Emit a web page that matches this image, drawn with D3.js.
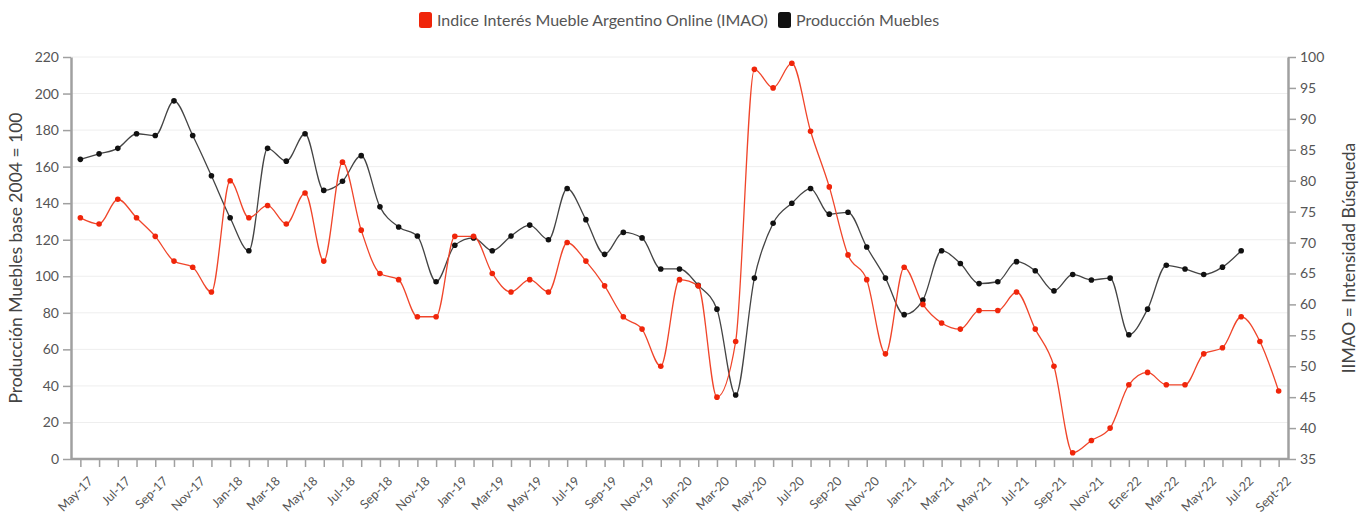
<!DOCTYPE html>
<html>
<head>
<meta charset="utf-8">
<script src="https://cdn.jsdelivr.net/npm/d3@7"></script>
<style>
  body { margin: 0; background: #fff; font-family: Lato, "Open Sans", sans-serif; }
  .axis path, .axis line { stroke: #a0a0a0; }
  .axis text { fill: #555; font-family: Lato, sans-serif; }
</style>
</head>
<body>
<div id="chart-area"></div>
<script>
// months May-17 .. Sept-22
var months = [
  "May-17","Jun-17","Jul-17","Ago-17","Sep-17","Oct-17","Nov-17","Dic-17",
  "Jan-18","Feb-18","Mar-18","Apr-18","May-18","Jun-18","Jul-18","Ago-18","Sep-18","Oct-18","Nov-18","Dic-18",
  "Jan-19","Feb-19","Mar-19","Apr-19","May-19","Jun-19","Jul-19","Ago-19","Sep-19","Oct-19","Nov-19","Dic-19",
  "Jan-20","Feb-20","Mar-20","Apr-20","May-20","Jun-20","Jul-20","Ago-20","Sep-20","Oct-20","Nov-20","Dic-20",
  "Jan-21","Feb-21","Mar-21","Apr-21","May-21","Jun-21","Jul-21","Ago-21","Sep-21","Oct-21","Nov-21","Dic-21",
  "Ene-22","Feb-22","Mar-22","Apr-22","May-22","Jun-22","Jul-22","Ago-22","Sept-22"
];

// Producción Muebles (base 2004 = 100), ends Jul-22
var produccion = [
  164, 167, 170, 178, 177, 196, 177, 155,
  132, 114, 170, 163, 178, 147, 152, 166, 138, 127, 122, 97,
  117, 121, 114, 122, 128, 120, 148, 131, 112, 124, 121, 104,
  104, 95, 82, 35, 99, 129, 140, 148, 134, 135, 116, 99,
  79, 87, 114, 107, 96, 97, 108, 103, 92, 101, 98, 99,
  68, 82, 106, 104, 101, 105, 114
];

// IMAO (intensidad de búsqueda)
var imao = [
  74, 73, 77, 74, 71, 67, 66, 62,
  80, 74, 76, 73, 78, 67, 83, 72, 65, 64, 58, 58,
  71, 71, 65, 62, 64, 62, 70, 67, 63, 58, 56, 50,
  64, 63, 45, 54, 98, 95, 99, 88, 79, 68, 64, 52,
  66, 60, 57, 56, 59, 59, 62, 56, 50, 36, 38, 40,
  47, 49, 47, 47, 52, 53, 58, 54, 46
];

var leftTicks = d3.range(0, 221, 20);
var rightTicks = d3.range(35, 101, 5);

var width = 1369, height = 515;
var margin = { top: 57, right: 81, bottom: 56, left: 71 };

var svg = d3.select("#chart-area").append("svg")
  .attr("width", width)
  .attr("height", height);

var x = d3.scalePoint()
  .domain(months)
  .range([margin.left, width - margin.right])
  .padding(0.5);

var yL = d3.scaleLinear().domain([0, 220]).range([height - margin.bottom, margin.top]);
var yR = d3.scaleLinear().domain([35, 100]).range([height - margin.bottom, margin.top]);

// grid
svg.append("g").selectAll("line")
  .data(leftTicks.slice(1)).enter()
  .append("line")
  .attr("x1", margin.left)
  .attr("x2", width - margin.right)
  .attr("y1", d => yL(d))
  .attr("y2", d => yL(d))
  .attr("stroke", "#eeeeee")
  .attr("stroke-width", 1);

var lineProd = d3.line()
  .x((d, i) => x(months[i]))
  .y(d => yL(d))
  .curve(d3.curveMonotoneX);

var lineImao = d3.line()
  .x((d, i) => x(months[i]))
  .y(d => yR(d))
  .curve(d3.curveMonotoneX);

svg.append("path")
  .datum(produccion)
  .attr("fill", "none")
  .attr("stroke", "#444")
  .attr("stroke-width", 1.3)
  .attr("d", lineProd);

svg.append("path")
  .datum(imao)
  .attr("fill", "none")
  .attr("stroke", "#f0452a")
  .attr("stroke-width", 1.3)
  .attr("d", lineImao);

svg.append("g").selectAll("circle")
  .data(produccion).enter()
  .append("circle")
  .attr("cx", (d, i) => x(months[i]))
  .attr("cy", d => yL(d))
  .attr("r", 2.8)
  .attr("fill", "#111");

svg.append("g").selectAll("circle")
  .data(imao).enter()
  .append("circle")
  .attr("cx", (d, i) => x(months[i]))
  .attr("cy", d => yR(d))
  .attr("r", 2.8)
  .attr("fill", "#f0250a");

// axes
var bottomAxis = d3.axisBottom(x)
  .tickSize(8)
  .tickSizeOuter(0)
  .tickFormat((d, i) => i % 2 === 0 ? d : "");
var gx = svg.append("g")
  .attr("class", "x axis")
  .attr("transform", "translate(0," + (height - margin.bottom) + ")")
  .call(bottomAxis);
gx.select(".domain").attr("stroke-width", 2.5).attr("d", "M" + margin.left + ",0H" + (width - margin.right));
gx.selectAll("line").attr("stroke-width", 1.5);
gx.selectAll("text")
  .attr("font-size", "12.5px")
  .attr("text-anchor", "end")
  .attr("dx", 0)
  .attr("dy", 0)
  .attr("transform", "translate(5,15) rotate(-45)");

var leftAxis = d3.axisLeft(yL).tickValues(leftTicks).tickSize(8).tickSizeOuter(0).tickPadding(4);
var gl = svg.append("g")
  .attr("class", "y axis")
  .attr("transform", "translate(" + margin.left + ",0)")
  .call(leftAxis);
gl.select(".domain").attr("stroke-width", 2.5);
gl.selectAll("line").attr("stroke-width", 1.5);
gl.selectAll("text").attr("font-size", "14px");

var rightAxis = d3.axisRight(yR).tickValues(rightTicks).tickSize(8).tickSizeOuter(0).tickPadding(4);
var gr = svg.append("g")
  .attr("class", "y axis")
  .attr("transform", "translate(" + (width - margin.right) + ",0)")
  .call(rightAxis);
gr.select(".domain").attr("stroke-width", 2.5);
gr.selectAll("line").attr("stroke-width", 1.5);
gr.selectAll("text").attr("font-size", "14px");

// axis titles
svg.append("text")
  .attr("transform", "translate(22," + ((margin.top + height - margin.bottom) / 2) + ") rotate(-90)")
  .attr("text-anchor", "middle")
  .attr("font-size", "17.5px")
  .attr("fill", "#444")
  .text("Producción Muebles base 2004 = 100");

svg.append("text")
  .attr("transform", "translate(1355," + ((margin.top + height - margin.bottom) / 2) + ") rotate(-90)")
  .attr("text-anchor", "middle")
  .attr("font-size", "17.5px")
  .attr("fill", "#444")
  .text("IIMAO = Intensidad Búsqueda");

// legend
var legend = [
  { name: "Indice Interés Mueble Argentino Online (IMAO)", color: "#f0250a", x: 419 },
  { name: "Producción Muebles", color: "#111", x: 778 }
];
var lg = svg.append("g").selectAll("g")
  .data(legend).enter()
  .append("g")
  .attr("transform", d => "translate(" + d.x + ",12)");
lg.append("rect")
  .attr("width", 13).attr("height", 16).attr("rx", 2.5)
  .attr("fill", d => d.color);
lg.append("text")
  .attr("x", 18).attr("y", 13.5)
  .attr("font-size", "16px")
  .attr("fill", "#555")
  .text(d => d.name);
</script>
</body>
</html>
